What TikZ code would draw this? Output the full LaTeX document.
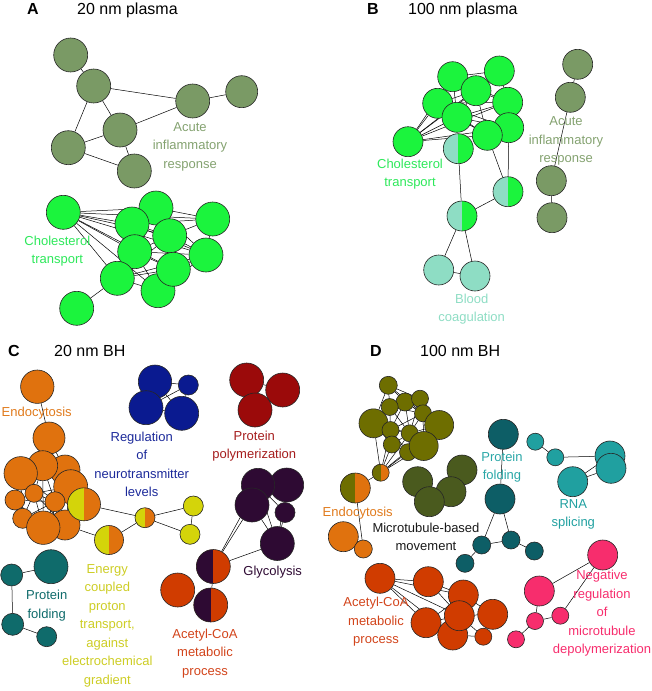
\documentclass[tikz,border=0pt]{standalone}
\usepackage{fontspec}
\setmainfont{Liberation Sans}
\usetikzlibrary{backgrounds}
\definecolor{cDG}{HTML}{7A9A65}
\definecolor{cDGt}{HTML}{84A270}
\definecolor{cGR}{HTML}{1BF43D}
\definecolor{cGRt}{HTML}{2DE85A}
\definecolor{cAQ}{HTML}{8EDDC4}
\definecolor{cOR}{HTML}{E0720E}
\definecolor{cORt}{HTML}{E07A1C}
\definecolor{cYE}{HTML}{D4D40A}
\definecolor{cYEt}{HTML}{CDCD25}
\definecolor{cBL}{HTML}{0A1A90}
\definecolor{cBLt}{HTML}{1C2A9A}
\definecolor{cRD}{HTML}{9B0A0A}
\definecolor{cRDt}{HTML}{A51D1D}
\definecolor{cPU}{HTML}{2E0A33}
\definecolor{cRO}{HTML}{D03C00}
\definecolor{cROt}{HTML}{D2441B}
\definecolor{cTD}{HTML}{0F6B6B}
\definecolor{cTE}{HTML}{0D5E66}
\definecolor{cTEt}{HTML}{2AA7A7}
\definecolor{cTL}{HTML}{20A0A0}
\definecolor{cOL}{HTML}{6E6E00}
\definecolor{cOD}{HTML}{4A5A1E}
\definecolor{cPK}{HTML}{F72D6D}
\tikzset{
  nd/.style={circle, draw=black!85, line width=0.6pt, inner sep=0pt, fill=#1},
  rad/.style={minimum size=#1*2pt},
  half/.style 2 args={circle, draw=black!85, line width=0.6pt, inner sep=0pt, fill=#2,
    path picture={\fill[#1] (path picture bounding box.south west) rectangle (path picture bounding box.north);}},
  lnk/.style={draw=black, line width=0.5pt},
  lbl/.style={font=\fontsize{13}{18.5}\selectfont, align=center, inner sep=0pt},
  ttl/.style={font=\fontsize{16}{18}\selectfont, anchor=base west, inner sep=0pt}
}
\begin{document}
\begin{tikzpicture}[x=1pt,y=-1pt]
\useasboundingbox (0,0) rectangle (652,691);
% titles
\node[ttl] (hA) at (27,14.6) {\textbf{A}};
\node[ttl] (tA) at (77,14.6) {20 nm plasma};
\node[ttl] (hB) at (367,14.6) {\textbf{B}};
\node[ttl] (tB) at (408,14.6) {100 nm plasma};
\node[ttl] (hC) at (8,356) {\textbf{C}};
\node[ttl] (tC) at (54,356) {20 nm BH};
\node[ttl] (hD) at (370,356) {\textbf{D}};
\node[ttl] (tD) at (420,356) {100 nm BH};

% ---------- Panel A ----------
\node[nd=cDG, rad=17] (A1) at (70.7,55) {};
\node[nd=cDG, rad=17] (A2) at (93.7,86) {};
\node[nd=cDG, rad=17] (A3) at (192.7,101) {};
\node[nd=cDG, rad=16] (A4) at (241.7,91.7) {};
\node[nd=cDG, rad=17] (A5) at (120,130) {};
\node[nd=cDG, rad=17] (A6) at (68.3,147.7) {};
\node[nd=cDG, rad=17] (A7) at (134.3,171) {};
\node[lbl, text=cDGt] (lA1) at (190,146.5) {Acute\\inflammatory\\response};

\node[nd=cGR, rad=17] (B1) at (63.3,212.3) {};
\node[nd=cGR, rad=17] (B3) at (156,208) {};
\node[nd=cGR, rad=17] (B2) at (132,224) {};
\node[nd=cGR, rad=17] (B4) at (212.7,219) {};
\node[nd=cGR, rad=17] (B6) at (134.7,251.7) {};
\node[nd=cGR, rad=17] (B5) at (169.7,235.7) {};
\node[nd=cGR, rad=17] (B7) at (206,255) {};
\node[nd=cGR, rad=17] (B9) at (117.3,278.3) {};
\node[nd=cGR, rad=17] (B10) at (158,290.7) {};
\node[nd=cGR, rad=17] (B8) at (173.3,269.3) {};
\node[nd=cGR, rad=17] (B11) at (76.7,308.3) {};
\node[lbl, text=cGRt] (lA2) at (57.3,251) {Cholesterol\\transport};

% ---------- Panel B ----------
\node[nd=cDG, rad=15] (C1) at (577.7,64.3) {};
\node[nd=cDG, rad=15] (C2) at (570.3,97.3) {};
\node[nd=cDG, rad=15] (C3) at (551.3,180.7) {};
\node[nd=cDG, rad=15] (C4) at (552,217.7) {};
\node[lbl, text=cDGt] (lB1) at (566,141) {Acute\\inflammatory\\response};

\node[nd=cGR, rad=15] (D1) at (452.7,76.7) {};
\node[nd=cGR, rad=15] (D2) at (499.3,71) {};
\node[nd=cGR, rad=15] (D3) at (476,90.7) {};
\node[nd=cGR, rad=15] (D4) at (437.7,103.3) {};
\node[nd=cGR, rad=15] (D5) at (507.7,102.3) {};
\node[nd=cGR, rad=15] (D6) at (457,117.3) {};
\node[nd=cGR, rad=15] (D7) at (508.7,127.7) {};
\node[nd=cGR, rad=15] (D8) at (487.3,135.3) {};
\node[nd=cGR, rad=15] (D9) at (408,141.7) {};
\node[half={cAQ}{cGR}, rad=15] (E1) at (458.3,148.7) {};
\node[half={cAQ}{cGR}, rad=15] (E2) at (508,191.7) {};
\node[half={cAQ}{cGR}, rad=15] (E3) at (462,216) {};
\node[nd=cAQ, rad=15] (F1) at (438.7,270) {};
\node[nd=cAQ, rad=15] (F2) at (475,276) {};
\node[lbl, text=cGRt] (lB2) at (410,174) {Cholesterol\\transport};
\node[lbl, text=cAQ] (lB3) at (471.7,309) {Blood\\coagulation};

% ---------- Panel C ----------
\node[nd=cOR, rad=16.7] (G1) at (37.3,386.7) {};
\node[lbl, text=cORt] (lC1) at (36.7,413.3) {Endocytosis};
\node[nd=cOR, rad=16] (G2) at (49,438) {};
\node[nd=cOR, rad=15] (G5) at (65,470) {};
\node[nd=cOR, rad=15] (G4) at (42.7,465.7) {};
\node[nd=cOR, rad=16.7] (G3) at (20.7,473.3) {};
\node[nd=cOR, rad=17] (G6) at (70.7,486.7) {};
\node[nd=cOR, rad=10] (G7) at (15,500) {};
\node[nd=cOR, rad=9] (G8) at (34,493.3) {};
\node[nd=cOR, rad=10] (G9) at (55,501.7) {};
\node[nd=cOR, rad=10] (G10) at (22.7,518.3) {};
\node[nd=cOR, rad=15] (G12) at (65,525) {};
\node[nd=cOR, rad=16.7] (G11) at (43.3,527.7) {};
\node[half={cYE}{cOR}, rad=16.5] (H1) at (84,504.3) {};
\node[half={cYE}{cOR}, rad=14.5] (H2) at (109,540) {};
\node[half={cYE}{cOR}, rad=10] (H3) at (145,517.7) {};
\node[nd=cYE, rad=10] (Y1) at (193.3,506) {};
\node[nd=cYE, rad=10] (Y2) at (190,534.3) {};
\node[lbl, text=cYEt] (lC2) at (107.3,625.5) {Energy\\coupled\\proton\\transport,\\against\\electrochemical\\gradient};

\node[nd=cBL, rad=16.7] (U1) at (155,381.7) {};
\node[nd=cBL, rad=10] (U2) at (188.3,385) {};
\node[nd=cBL, rad=17] (U3) at (146,407.7) {};
\node[nd=cBL, rad=17] (U4) at (181.7,413.3) {};
\node[lbl, text=cBLt] (lC3) at (141.7,464.5) {Regulation\\of\\neurotransmitter\\levels};

\node[nd=cRD, rad=17] (R2) at (282.7,390) {};
\node[nd=cRD, rad=17] (R1) at (246.7,380) {};
\node[nd=cRD, rad=17] (R3) at (255,410) {};
\node[lbl, text=cRDt] (lC4) at (254.3,446) {Protein\\polymerization};

\node[nd=cPU, rad=17] (P2) at (286.7,485) {};
\node[nd=cPU, rad=16.7] (P1) at (258,485) {};
\node[nd=cPU, rad=17] (P3) at (252,505) {};
\node[nd=cPU, rad=10] (P4) at (285,512.5) {};
\node[nd=cPU, rad=17] (P5) at (277.3,543.5) {};
\node[half={cPU}{cRO}, rad=17] (Q1) at (213.3,566.5) {};
\node[nd=cRO, rad=17] (O1) at (177.7,590) {};
\node[half={cPU}{cRO}, rad=17] (Q2) at (210.7,605) {};
\node[lbl, text=cPU] (lC5) at (272.7,571.7) {Glycolysis};
\node[lbl, text=cROt] (lC6) at (205,653.5) {Acetyl-CoA\\metabolic\\process};

\node[nd=cTD, rad=17] (T1) at (51,566.7) {};
\node[nd=cTD, rad=11] (T2) at (11.7,575) {};
\node[nd=cTD, rad=11] (T3) at (12.7,624.3) {};
\node[nd=cTD, rad=10] (T4) at (46.7,636.7) {};
\node[lbl, text=cTD] (lC7) at (46.7,605.5) {Protein\\folding};

% ---------- Panel D ----------
\node[nd=cOL, rad=9] (K1) at (388.3,385.3) {};
\node[nd=cOL, rad=9] (K2) at (405,402) {};
\node[nd=cOL, rad=8.5] (K3) at (420,398.7) {};
\node[nd=cOL, rad=8.5] (K4) at (389.7,407) {};
\node[nd=cOL, rad=8.5] (K6) at (423,413.3) {};
\node[nd=cOL, rad=14.5] (K5) at (373.5,423.3) {};
\node[nd=cOL, rad=14.5] (K7) at (439.2,425) {};
\node[nd=cOL, rad=8.5] (K8) at (390.5,430) {};
\node[nd=cOL, rad=8.5] (K9) at (409.7,433.3) {};
\node[nd=cOL, rad=8.5] (K10) at (391.8,444.5) {};
\node[nd=cOL, rad=8.5] (K12) at (408,452.2) {};
\node[nd=cOL, rad=14.5] (K11) at (423.7,446) {};
\node[half={cOL}{cOR}, rad=8.5] (L1) at (380.7,472.7) {};
\node[half={cOL}{cOR}, rad=15] (L2) at (355.3,488) {};
\node[nd=cOR, rad=15] (M1) at (343.3,536.7) {};
\node[nd=cOR, rad=9] (M2) at (363.3,549) {};
\node[lbl, text=cORt] (lD1) at (357.7,513.3) {Endocytosis};

\node[nd=cOD, rad=15] (N1) at (462,470) {};
\node[nd=cOD, rad=15] (N2) at (417.7,481.7) {};
\node[nd=cOD, rad=15] (N3) at (451,491.7) {};
\node[nd=cOD, rad=15] (N4) at (429.3,501.7) {};
\node[lbl, text=black!90] (lD2) at (426,536.7) {Microtubule-based\\movement};

\node[nd=cTE, rad=15] (S1) at (503.3,434.3) {};
\node[nd=cTE, rad=15] (S2) at (500,499) {};
\node[nd=cTE, rad=9] (S3) at (481.7,545) {};
\node[nd=cTE, rad=9] (S4) at (511,540) {};
\node[nd=cTE, rad=9] (S5) at (534.3,551) {};
\node[nd=cTE, rad=9] (S6) at (465,563.3) {};
\node[lbl, text=cTEt] (lD3) at (502,467) {Protein\\folding};

\node[nd=cTL, rad=8.5] (V1) at (535.3,441.7) {};
\node[nd=cTL, rad=8.5] (V2) at (555.3,457.3) {};
\node[nd=cTL, rad=15] (V3) at (572.7,481.7) {};
\node[nd=cTL, rad=15] (V4) at (610,456) {};
\node[nd=cTL, rad=15] (V5) at (611,468.3) {};
\node[lbl, text=cTL] (lD4) at (573.3,514.5) {RNA\\splicing};

\node[nd=cRO, rad=15] (W1) at (380,578.3) {};
\node[nd=cRO, rad=15] (W2) at (428.3,581.7) {};
\node[nd=cRO, rad=15] (W3) at (463.3,595) {};
\node[nd=cRO, rad=15] (W4) at (426,622.7) {};
\node[nd=cRO, rad=15] (W6) at (492.7,614.3) {};
\node[nd=cRO, rad=15] (W7) at (452.7,635) {};
\node[nd=cRO, rad=8.5] (W8) at (483.3,636.7) {};
\node[nd=cRO, rad=15] (W5) at (459.3,615.7) {};
\node[lbl, text=cROt] (lD5) at (376,622) {Acetyl-CoA\\metabolic\\process};

\node[nd=cPK, rad=15] (X1) at (602.7,555) {};
\node[nd=cPK, rad=15] (X2) at (539.3,591) {};
\node[nd=cPK, rad=8.5] (X3) at (560.3,615.7) {};
\node[nd=cPK, rad=8.5] (X4) at (535,621) {};
\node[nd=cPK, rad=8.5] (X5) at (516,639.3) {};
\node[lbl, text=cPK] (lD6) at (602,613.3) {Negative\\regulation\\of\\microtubule\\depolymerization};

% ---------- edges ----------
\begin{scope}[on background layer]
\foreach \a/\b in {A1/A2,A2/A3,A3/A4,A2/A5,A2/A6,A5/A3,A6/A5,A6/A7,A5/A7,
  B1/B2,B1/B3,B1/B4,B1/B5,B1/B6,B1/B7,B1/B8,B1/B9,B1/B10,
  B2/B3,B2/B4,B3/B4,B2/B5,B3/B5,B4/B5,B5/B7,B4/B7,B6/B7,B6/B8,B6/B10,B9/B10,B9/B8,
  B5/B8,B7/B8,B8/B10,B9/B6,B2/B7,B9/B7,B10/B7,B6/B5,B2/B6,B3/B7,B9/B5,B10/B5,B9/B11,
  C1/C2,C2/C3,C3/C4,
  D9/D1,D9/D2,D9/D3,D9/D4,D9/D5,D9/D6,D9/D7,D9/D8,
  D1/D2,D1/D3,D1/D4,D2/D3,D2/D5,D3/D4,D3/D5,D3/D6,D4/D6,D4/D5,D5/D6,D5/D7,D6/D7,
  D6/D8,D7/D8,D4/D7,D4/D8,D3/D8,D1/D5,D1/D6,D7/E2,D8/E2,E1/E3,E2/E3,E3/F1,E3/F2,F1/F2,
  G1/G2,G2/G3,G2/G4,G2/G5,
  G3/G4,G3/G7,G3/G8,G3/G10,G4/G5,G4/G8,G4/G9,G4/G6,G5/G6,G5/G9,G6/G9,G6/H1,G6/G12,
  G7/G8,G7/G10,G8/G9,G8/G10,G8/G11,G9/G11,G9/G12,G10/G11,G11/G12,G9/H1,G8/G12,G7/G9,
  G10/G9,G8/G6,G3/G9,G11/G6,G4/G11,G12/H1,G7/G11,G10/G12,
  G12/H2,H1/H3,H2/H3,H3/Y1,H3/Y2,Y1/Y2,
  U1/U2,U2/U3,U1/U4,U3/U4,U2/U4,
  R1/R2,R1/R3,R2/R3,
  P1/P2,P1/P3,P2/P4,P1/P4,P4/P5,P3/P5,P1/P5,P2/P5,Q1/P3,Q1/P1,Q1/P5,Q1/Q2,
  T1/T2,T2/T3,T3/T4,
  K1/K2,K1/K3,K1/K4,K1/K5,K1/K6,K2/K3,K2/K4,K2/K6,K2/K8,K2/K9,K3/K6,K3/K7,K4/K5,
  K4/K8,K4/K6,K5/K8,K5/K10,K6/K7,K6/K9,K6/K11,K7/K11,K8/K9,K8/K10,K8/K12,K9/K11,
  K9/K12,K10/K12,K9/K10,K11/K12,K6/K8,K2/K7,K7/K9,K4/K9,K5/K9,K3/K9,
  L1/K5,L1/K10,L1/K12,L1/K11,L1/K9,L1/K8,L1/K7,L1/L2,L2/M2,
  S1/S2,S2/S3,S2/S4,S3/S4,S4/S5,S3/S6,
  V1/V2,V2/V4,V3/V4,V3/V5,V4/V5,
  W1/W2,W1/W3,W1/W4,W1/W5,W1/W7,W2/W3,W3/W5,W4/W5,W5/W6,W5/W8,W6/W8,W7/W8,W3/W6,
  W4/W7,W5/W7,W3/W4,W2/W5,
  X1/X2,X1/X3,X3/X4,X2/X4,X4/X5}
  \draw[lnk] (\a) -- (\b);
\end{scope}
\end{tikzpicture}
\end{document}
